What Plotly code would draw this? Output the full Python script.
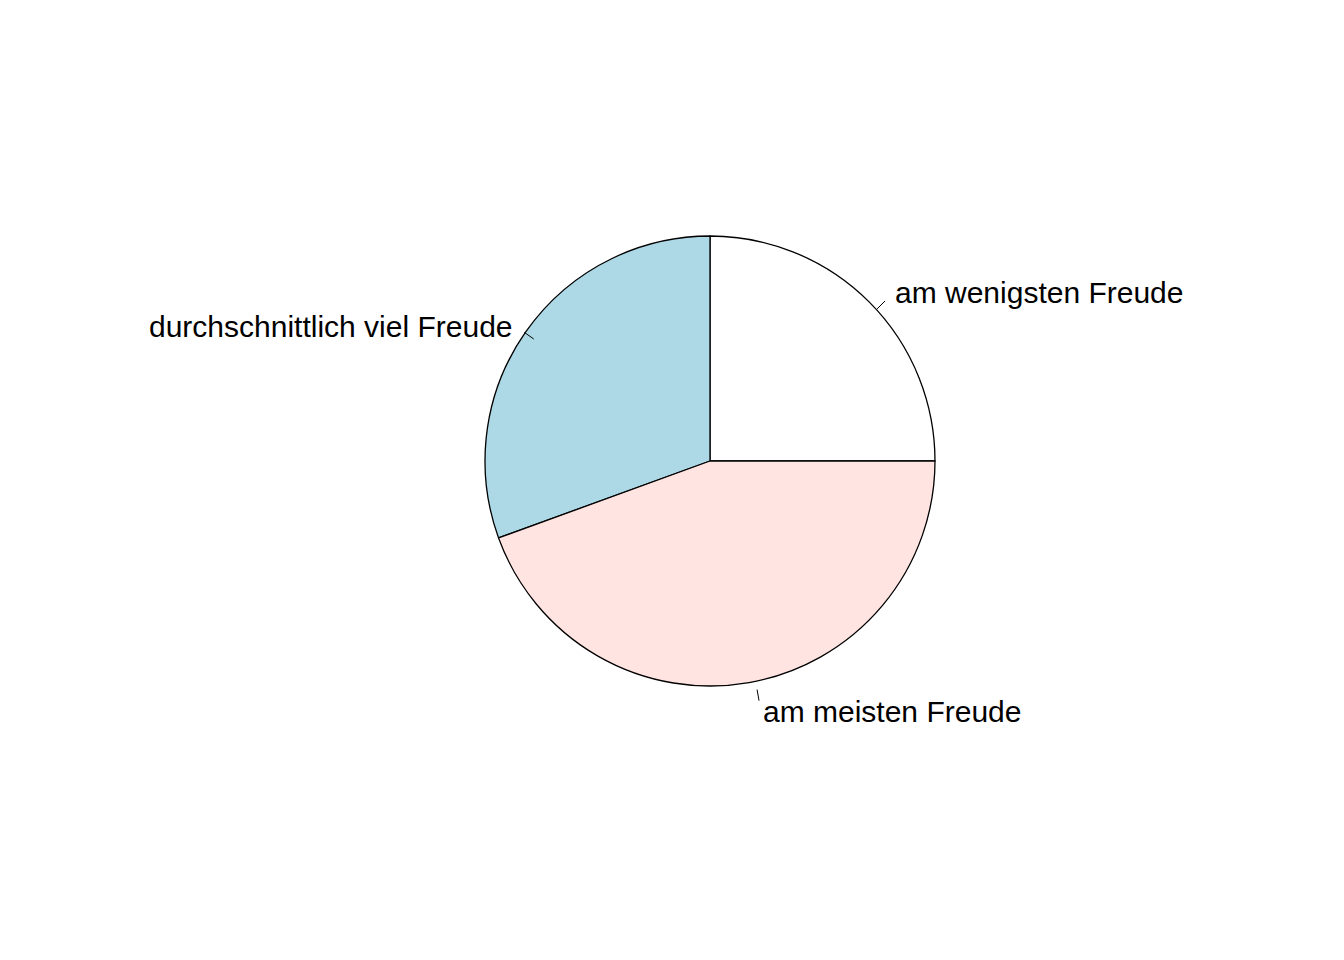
import math
import plotly.graph_objects as go

labels = ["am wenigsten Freude", "durchschnittlich viel Freude", "am meisten Freude"]
values = [9, 11, 16]
colors = ["white", "lightblue", "mistyrose"]

W, H = 1344, 960
cx, cy, R = 710, 460, 225
dx, dy = -8, -7  # compensation for plotly's own pie placement

fig = go.Figure(go.Pie(
    labels=labels, values=values, sort=False, direction="counterclockwise",
    rotation=0, marker=dict(colors=colors, line=dict(color="black", width=1.3)),
    textinfo="none", hoverinfo="label+value", showlegend=False,
    domain=dict(x=[(cx + dx - R) / W, (cx + dx + R) / W],
                y=[(H - cy - dy - R) / H, (H - cy - dy + R) / H]),
))

total = sum(values)
start = 0.0
shapes, annos = [], []
for lab, v in zip(labels, values):
    ang = start + v / total * 360 / 2
    start += v / total * 360
    a = math.radians(ang)
    def pt(r):
        return (cx + r * R * math.cos(a)) / W, (H - cy + r * R * math.sin(a)) / H
    x0, y0 = pt(1.0); x1, y1 = pt(1.05); xl, yl = pt(1.1)
    shapes.append(dict(type="line", xref="paper", yref="paper", x0=x0, y0=y0, x1=x1, y1=y1,
                       line=dict(color="black", width=1)))
    annos.append(dict(text=lab, xref="paper", yref="paper", x=xl, y=yl, showarrow=False,
                      xanchor="left" if math.cos(a) > 0 else "right", yanchor="middle",
                      font=dict(family="Liberation Sans, Arial", size=30, color="black")))

fig.update_layout(width=W, height=H, margin=dict(l=0, r=0, t=0, b=0),
                  paper_bgcolor="white", plot_bgcolor="white", shapes=shapes, annotations=annos)
fig.write_html("out.html")
